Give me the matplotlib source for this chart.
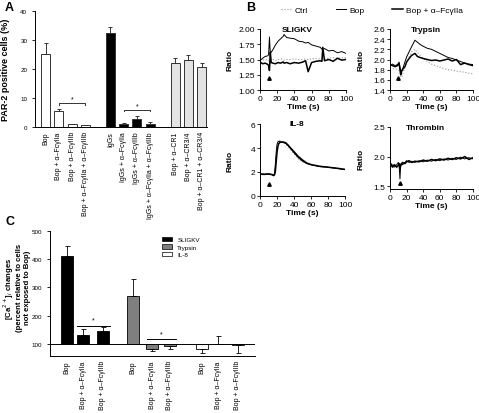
"""
Three-panel figure: PAR-2 positive cells (A), calcium ratio traces (B),
and [Ca2+]i change summary (C).
"""
import matplotlib
matplotlib.use('Agg')
import matplotlib.pyplot as plt
from matplotlib.patches import Patch

plt.rcParams['font.family'] = ['Liberation Sans', 'DejaVu Sans']

# ---- Panel A data ----
a_labels = ['Bop', 'Bop + α–FcγIIa', 'Bop + α–FcγIIIb', 'Bop + α–FcγIIa + α–FcγIIIb',
            'IgGs', 'IgGs + α–FcγIIa', 'IgGs + α–FcγIIIb', 'IgGs + α–FcγIIa + α–FcγIIIb',
            'Bop + α–CR1', 'Bop + α–CR3/4', 'Bop + α–CR1 + α–CR3/4']
a_values = [25.1, 5.7, 0.9, 0.7, 32.4, 0.9, 2.8, 0.9, 22.1, 23.2, 20.9]
a_errors = [3.9, 0.5, 0.1, 0.1, 2.3, 0.6, 0.9, 0.8, 1.8, 1.7, 1.2]
a_pos = [0, 1, 2, 3, 4.9, 5.9, 6.9, 7.9, 9.8, 10.8, 11.8]
a_colors = ['white'] * 4 + ['black'] * 4 + ['#e3e3e3'] * 3

# ---- Panel B data ----
sl_t = [0, 3, 6, 9, 10, 11, 12, 13, 15, 18, 21, 24, 27, 28, 31, 35, 40, 45, 50, 53,
        56, 60, 65, 70, 72, 73, 75, 80, 85, 90, 95, 100]
sl_ctrl = [1.50, 1.49, 1.50, 1.49, 1.48, 1.50, 1.51, 1.49, 1.50, 1.48, 1.50, 1.51, 1.50, 1.49,
           1.50, 1.50, 1.51, 1.50, 1.50, 1.51, 1.50, 1.51, 1.52, 1.51, 1.52, 1.52, 1.51, 1.52,
           1.53, 1.52, 1.53, 1.53]
sl_bop = [1.48, 1.52, 1.55, 1.56, 1.58, 1.87, 1.60, 1.62, 1.66, 1.74, 1.80, 1.84, 1.88, 1.91,
          1.86, 1.85, 1.84, 1.80, 1.79, 1.77, 1.78, 1.74, 1.72, 1.70, 1.67, 1.66, 1.68, 1.64,
          1.65, 1.61, 1.63, 1.60]
sl_ab = [1.46, 1.43, 1.44, 1.42, 1.40, 1.32, 1.62, 1.45, 1.44, 1.43, 1.45, 1.44, 1.46, 1.44,
         1.45, 1.43, 1.45, 1.44, 1.46, 1.48, 1.30, 1.45, 1.47, 1.48, 1.47, 1.70, 1.48, 1.50,
         1.47, 1.52, 1.49, 1.50]

tr_t = [0, 3, 6, 9, 11, 12, 13, 14, 16, 18, 20, 23, 26, 30, 33, 36, 40, 45, 50, 55, 60,
        65, 70, 75, 80, 85, 90, 95, 100]
tr_ctrl = [1.83, 1.82, 1.82, 1.80, 1.78, 1.72, 1.66, 1.65, 1.75, 1.85, 1.95, 2.05, 2.15, 2.20,
           2.14, 2.08, 2.02, 1.96, 1.91, 1.88, 1.85, 1.82, 1.80, 1.79, 1.77, 1.76, 1.75, 1.73, 1.72]
tr_bop = [1.88, 1.91, 1.88, 1.90, 1.95, 1.85, 1.78, 1.76, 1.85, 1.95, 2.05, 2.15, 2.25, 2.38,
          2.34, 2.30, 2.26, 2.22, 2.20, 2.16, 2.12, 2.08, 2.04, 2.02, 1.99, 1.96, 1.93, 1.91, 1.90]
tr_ab = [1.90, 1.88, 1.86, 1.88, 1.92, 1.80, 1.70, 1.78, 1.82, 1.86, 1.95, 2.02, 2.08, 2.12,
         2.06, 2.04, 2.02, 2.00, 1.98, 1.99, 1.97, 1.99, 2.01, 1.97, 2.00, 1.90, 1.93, 1.90, 1.88]

il_t = [0, 5, 10, 14, 16, 17, 18, 19, 20, 21, 22, 24, 27, 30, 33, 36, 40, 45, 50, 55, 60,
        70, 80, 90, 100]
il_ctrl = [1.85, 1.85, 1.85, 1.82, 1.80, 1.85, 2.3, 3.2, 4.0, 4.5, 4.7, 4.6, 4.5, 4.35, 4.1,
           3.85, 3.5, 3.1, 2.85, 2.7, 2.6, 2.45, 2.38, 2.3, 2.2]
il_bop = [1.85, 1.82, 1.85, 1.80, 1.75, 1.85, 2.6, 3.6, 4.3, 4.5, 4.55, 4.5, 4.45, 4.4, 4.2,
          3.95, 3.6, 3.2, 2.9, 2.7, 2.6, 2.45, 2.4, 2.3, 2.2]
il_ab = [1.82, 1.80, 1.83, 1.78, 1.70, 1.75, 2.0, 2.8, 3.6, 4.1, 4.35, 4.5, 4.5, 4.45, 4.25,
         4.0, 3.7, 3.3, 3.0, 2.75, 2.62, 2.48, 2.4, 2.32, 2.22]

th_t = [0, 3, 5, 8, 10, 11, 12, 13, 15, 18, 20, 23, 26, 30, 35, 40, 45, 50, 55, 60, 65, 70,
        75, 80, 85, 90, 95, 100]
th_ctrl = [1.89, 1.87, 1.85, 1.87, 1.88, 1.87, 1.85, 1.87, 1.88, 1.89, 1.90, 1.91, 1.91, 1.92,
           1.92, 1.93, 1.93, 1.94, 1.94, 1.95, 1.95, 1.96, 1.96, 1.96, 1.97, 1.97, 1.97, 1.98]
th_bop = [1.90, 1.85, 1.82, 1.86, 1.90, 1.84, 1.62, 1.88, 1.86, 1.90, 1.93, 1.90, 1.92, 1.90,
          1.93, 1.91, 1.94, 1.92, 1.95, 1.93, 1.96, 1.94, 1.97, 1.95, 1.99, 1.96, 1.98, 1.96]
th_ab = [1.88, 1.82, 1.86, 1.82, 1.85, 1.88, 1.80, 1.85, 1.90, 1.88, 1.91, 1.93, 1.90, 1.92,
         1.91, 1.94, 1.92, 1.95, 1.93, 1.96, 1.94, 1.97, 1.95, 1.98, 1.96, 2.00, 1.95, 1.98]

# ---- Panel C data ----
c_labels = ['Bop', 'Bop + α–FcγIIa', 'Bop + α–FcγIIIb'] * 3
c_values = [413, 133, 145, 269, 83, 94, 82, 101, 96]
c_errors = [33, 20, 14, 62, 9, 12, 15, 29, 28]
c_pos = [0, 0.95, 2.1, 3.9, 5.0, 6.05, 7.95, 8.9, 10.05]
c_colors = ['black'] * 3 + ['#7f7f7f'] * 3 + ['white'] * 3
c_series = ['SLIGKV', 'Trypsin', 'IL-8']

W, H = 479, 414
fig = plt.figure(figsize=(W / 100, H / 100), dpi=100)


def px_axes(x0, y0, x1, y1):
    return fig.add_axes([x0 / W, 1 - y1 / H, (x1 - x0) / W, (y1 - y0) / H])


def clean(ax):
    ax.spines['top'].set_visible(False)
    ax.spines['right'].set_visible(False)
    for s in ('left', 'bottom'):
        ax.spines[s].set_linewidth(0.7)


# Panel A
ax = px_axes(35, 12.3, 207, 128)
clean(ax)
ax.bar(a_pos, a_values, width=0.68, color=a_colors, edgecolor='#333333', linewidth=0.7)
ax.errorbar(a_pos, a_values, yerr=[[0] * len(a_errors), a_errors], fmt='none',
            ecolor='#333333', elinewidth=0.7, capsize=1.5, capthick=0.7)
ax.set_xlim(-0.8, 12.2)
ax.set_ylim(0, 40)
ax.set_yticks([0, 10, 20, 30, 40])
ax.set_xticks(a_pos)
ax.set_xticklabels(a_labels, rotation=90, fontsize=5)
ax.tick_params(axis='y', labelsize=4.5, length=2, width=0.6)
ax.tick_params(axis='x', length=0, pad=3)
ax.set_ylabel('PAR-2 positive cells (%)', fontsize=6.5, fontweight='bold')
ax.yaxis.set_label_coords(-0.145, 0.5)
for x0, x1, y in [(1, 3, 8.3), (4.9 + 1, 7.9, 6.0)]:
    ax.plot([x0, x0, x1, x1], [y - 0.6, y, y, y - 0.6], color='#333333', lw=0.7)
    ax.text((x0 + x1) / 2, y + 0.2, '*', ha='center', va='bottom', fontsize=5)

# Panel B
traces = [
    ('SLIGKV', (260, 30, 346, 91), sl_t, sl_ctrl, sl_bop, sl_ab, (1.0, 2.0),
     [1.0, 1.25, 1.5, 1.75, 2.0], '{:.2f}', (10, 1.2)),
    ('Trypsin', (390, 30, 473, 91), tr_t, tr_ctrl, tr_bop, tr_ab, (1.4, 2.6),
     [1.4, 1.6, 1.8, 2.0, 2.2, 2.4, 2.6], '{:.1f}', (10, 1.63)),
    ('IL-8', (260, 125, 345, 197), il_t, il_ctrl, il_bop, il_ab, (0, 6),
     [0, 2, 4, 6], '{:.0f}', (10, 1.0)),
    ('Thrombin', (390, 128, 473, 190), th_t, th_ctrl, th_bop, th_ab, (1.45, 2.5),
     [1.5, 2.0, 2.5], '{:.1f}', (12, 1.55)),
]
for name, box, t, ctrl, bop, ab, ylim, yt, fmt, arrow in traces:
    ax = px_axes(*box)
    clean(ax)
    ax.plot(t, ctrl, color='#999999', lw=0.8, ls=':', label='Ctrl')
    ax.plot(t, bop, color='black', lw=0.7, label='Bop')
    ax.plot(t, ab, color='black', lw=1.1, label='Bop + α–FcγIIa')
    ax.plot([arrow[0]], [arrow[1]], marker='^', color='black', ms=2.5)
    ax.set_xlim(0, 100)
    ax.set_ylim(*ylim)
    ax.set_xticks([0, 20, 40, 60, 80, 100])
    ax.set_yticks(yt)
    ax.set_yticklabels([fmt.format(v) for v in yt])
    ax.tick_params(labelsize=6, length=2, width=0.6, pad=1.5)
    ax.set_xlabel('Time (s)', fontsize=6, fontweight='bold', labelpad=1)
    ax.text(0.43, 1.0, name, transform=ax.transAxes, ha='center', va='center',
            fontsize=6, fontweight='bold')
    ax.set_ylabel('Ratio', fontsize=6, fontweight='bold')
    ax.yaxis.set_label_coords(-0.31, 0.5)
    if name == 'SLIGKV':
        handles, labels = ax.get_legend_handles_labels()

fig.legend(handles, labels, loc='center', bbox_to_anchor=(372 / W, 1 - 11 / H), ncol=3,
           frameon=False, fontsize=6, handlelength=1.3, columnspacing=3.3, handletextpad=0.4)

# Panel C
ax = px_axes(50, 232, 255, 357)
clean(ax)
ax.bar(c_pos, [v - 100 for v in c_values], bottom=100, width=0.72, color=c_colors,
       edgecolor='black', linewidth=0.6)
lo = [e if v < 100 else 0 for v, e in zip(c_values, c_errors)]
hi = [e if v >= 100 else 0 for v, e in zip(c_values, c_errors)]
ax.errorbar(c_pos, c_values, yerr=[lo, hi], fmt='none', ecolor='black', elinewidth=0.6,
            capsize=1.8, capthick=0.6)
ax.axhline(100, color='black', lw=0.7)
ax.set_xlim(-1, 11.05)
ax.set_ylim(57.5, 500)
ax.set_yticks([100, 200, 300, 400, 500])
ax.set_xticks(c_pos)
ax.set_xticklabels(c_labels, rotation=90, fontsize=5)
ax.tick_params(axis='y', labelsize=4.5, length=2, width=0.6)
ax.tick_params(axis='x', length=0, pad=3)
ax.set_ylabel('[Ca$^{2+}$]$_i$ changes\n(percent relative to cells\nnot exposed to Bop)',
              fontsize=5.6, fontweight='bold', linespacing=1.05)
ax.yaxis.set_label_coords(-0.095, 0.55)
ax.plot([0.6, 2.5], [162, 162], color='black', lw=0.7)
ax.text(1.55, 172, '*', ha='center', va='bottom', fontsize=5)
ax.plot([4.7, 6.4], [118, 118], color='black', lw=0.7)
ax.text(5.55, 122, '*', ha='center', va='bottom', fontsize=5)
patches = [Patch(facecolor=c, edgecolor='black', linewidth=0.5) for c in ('black', '#7f7f7f', 'white')]
ax.legend(patches, c_series, loc='upper left', bbox_to_anchor=(0.52, 1.0), frameon=False,
          fontsize=4.5, handlelength=1.6, handleheight=0.8, labelspacing=0.3)

# Panel letters
fig.text(5 / W, 1 - 8 / H, 'A', fontsize=9, fontweight='bold', va='center')
fig.text(246 / W, 1 - 8 / H, 'B', fontsize=9, fontweight='bold', va='center')
fig.text(5 / W, 1 - 222 / H, 'C', fontsize=9, fontweight='bold', va='center')

fig.savefig('out.png', dpi=100)
